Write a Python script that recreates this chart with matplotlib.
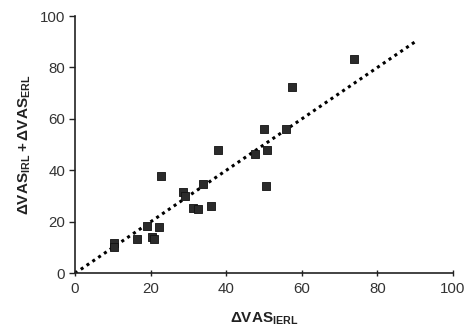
import matplotlib
matplotlib.use("Agg")
import matplotlib.pyplot as plt
import numpy as np

plt.rcParams['font.family'] = ['Liberation Sans', 'DejaVu Sans']
plt.rcParams['mathtext.fontset'] = 'custom'
plt.rcParams['mathtext.rm'] = 'Liberation Sans'
plt.rcParams['mathtext.bf'] = 'Liberation Sans:bold'

x_ierl = [73.9, 57.5, 49.9, 55.8, 37.9, 47.5, 50.8, 50.6, 22.8, 28.5, 29.0,
          33.8, 31.3, 32.6, 35.9, 19.1, 22.3, 16.3, 20.5, 21.0, 10.4, 10.4]
y_sum = [83.2, 72.5, 56.0, 56.0, 47.9, 46.2, 47.9, 34.1, 37.8, 31.5, 30.2,
         34.7, 25.3, 24.8, 26.0, 18.5, 17.9, 13.3, 14.2, 13.2, 11.7, 10.3]
fit_x = [0, 90]
fit_y = [0, 90]
xticks = [0, 20, 40, 60, 80, 100]
yticks = [0, 20, 40, 60, 80, 100]

fig = plt.figure(figsize=(4.65, 3.28), dpi=100)
ax = fig.add_axes([75/465, 1 - 273.3/328, (453 - 75)/465, (273.3 - 16)/328])

ax.plot(fit_x, fit_y, linestyle=(0, (1, 1.3)), color='black', linewidth=2.2, zorder=2)
ax.scatter(x_ierl, y_sum, marker='s', s=40, color='#2b2b2b', edgecolors='#111111',
           linewidths=0.6, zorder=3)

ax.set_xlim(0, 100)
ax.set_ylim(0, 100)
ax.set_xticks(xticks)
ax.set_yticks(yticks)
for s in ['top', 'right']:
    ax.spines[s].set_visible(False)
for s in ['left', 'bottom']:
    ax.spines[s].set_linewidth(1.2)
    ax.spines[s].set_color('#222222')
ax.tick_params(axis='y', direction='out', length=4, width=1, colors='#222222',
               labelsize=10.8, labelcolor='#333333', pad=3)
ax.tick_params(axis='x', direction='inout', length=5, width=1, colors='#222222',
               labelsize=10.8, labelcolor='#333333', pad=4)

ax.set_xlabel(r'$\mathbf{\Delta VAS_{IERL}}$', fontsize=11, color='#222222', labelpad=10)
ax.set_ylabel(r'$\mathbf{\Delta VAS_{IRL} + \Delta VAS_{ERL}}$',
              fontsize=11, color='#222222', labelpad=5)

fig.savefig('out.png', dpi=100)
